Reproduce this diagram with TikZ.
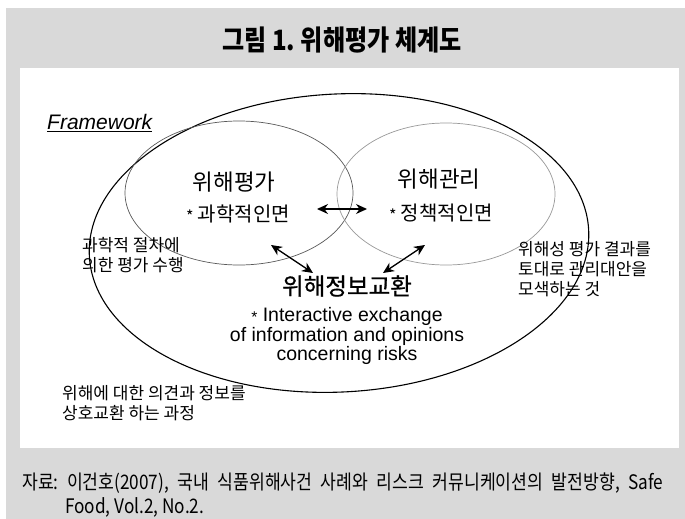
\documentclass[tikz,border=0pt]{standalone}
\usepackage{fontspec}
\setmainfont{Noto Sans CJK KR}
\newfontfamily\latinfont{Liberation Sans}
\newfontfamily\narrowfont[FakeStretch=0.86]{Noto Sans CJK KR}
\newfontfamily\heavyfont[FakeBold=0.8]{Noto Sans CJK KR}
\usetikzlibrary{arrows.meta}
\definecolor{panelgray}{RGB}{217,217,217}
\frenchspacing

\newcommand\smallast{\raisebox{-1pt}{\scalebox{0.8}{*}}}

\tikzset{
  bothway/.style={{Stealth[length=11pt,width=10pt]}-{Stealth[length=11pt,width=10pt]}, line width=1.3pt},
  note/.style={anchor=west, align=left, inner sep=0pt, font=\fontsize{17}{20}\selectfont},
  area/.style={inner sep=0pt, font=\fontsize{22.5}{22.5}\selectfont},
  aspect/.style={inner sep=0pt, font=\fontsize{20}{20}\selectfont},
}

\begin{document}
\begin{tikzpicture}[x=1pt,y=-1pt]
  % Frame
  \useasboundingbox (0,0) rectangle (685,519);
  \fill[panelgray] (6,8) rectangle (685,519);
  \fill[white] (20,68) rectangle (679,448);

  % Title
  \node[inner sep=0pt] (title) at (342,40) {\narrowfont\fontsize{28}{28}\selectfont\bfseries 그림 1. 위해평가 체계도};

  % Framework label
  \node[anchor=west, inner sep=0pt] (fw) at (47,123)
    {\latinfont\fontsize{21}{21}\selectfont\underline{\itshape Framework}};

  % Ellipses
  \draw[line width=1.1pt, rotate around={3:(339,243)}] (339,243) ellipse [x radius=250, y radius=149];
  \draw[line width=0.7pt, black!65] (239,193) ellipse [x radius=114, y radius=72];
  \draw[line width=0.7pt, black!40] (446,194) ellipse [x radius=109, y radius=71];

  % Risk assessment
  \node[area] (assess) at (234,182) {위해평가};
  \node[aspect] (sci) at (238,214) {\smallast\ 과학적인면};

  % Risk management
  \node[area] (manage) at (439,179) {위해관리};
  \node[aspect] (pol) at (441,213) {\smallast\ 정책적인면};

  % Risk communication
  \node[inner sep=0pt, font=\heavyfont\fontsize{23.5}{23.5}\selectfont] (comm) at (347,286) {위해정보교환};
  \node[inner sep=0pt, align=center, font=\latinfont\fontsize{19.5}{19.5}\selectfont] (commtxt) at (347,336)
    {\smallast\ Interactive exchange\\of information and opinions\\concerning risks};

  % Side notes
  \node[note] (sciproc) at (82,255) {과학적 절차에\\의한 평가 수행};
  \node[note] (mgmt) at (518,269) {위해성 평가 결과를\\토대로 관리대안을\\모색하는 것};
  \node[note] (share) at (62,403) {위해에 대한 의견과 정보를\\상호교환 하는 과정};

  % Arrow ends
  \coordinate (sciR) at (317,209);
  \coordinate (polL) at (367,209);
  \coordinate (assessB) at (271,245);
  \coordinate (commL) at (313,273);
  \coordinate (manageB) at (425,245);
  \coordinate (commR) at (383,273);

  % Arrows
  \draw[bothway] (sciR) -- (polL);
  \draw[bothway] (assessB) -- (commL);
  \draw[bothway] (manageB) -- (commR);

  % Source
  \node[anchor=west, inner sep=0pt] (src) at (22,483)
    {\narrowfont\fontsize{20}{20}\selectfont\makebox[641pt][s]{자료: 이건호(2007), 국내 식품위해사건 사례와 리스크 커뮤니케이션의 발전방향, Safe}};
  \node[anchor=west, inner sep=0pt] (src2) at (65,507)
    {\narrowfont\fontsize{20}{20}\selectfont Food, Vol.2, No.2.};
\end{tikzpicture}
\end{document}
